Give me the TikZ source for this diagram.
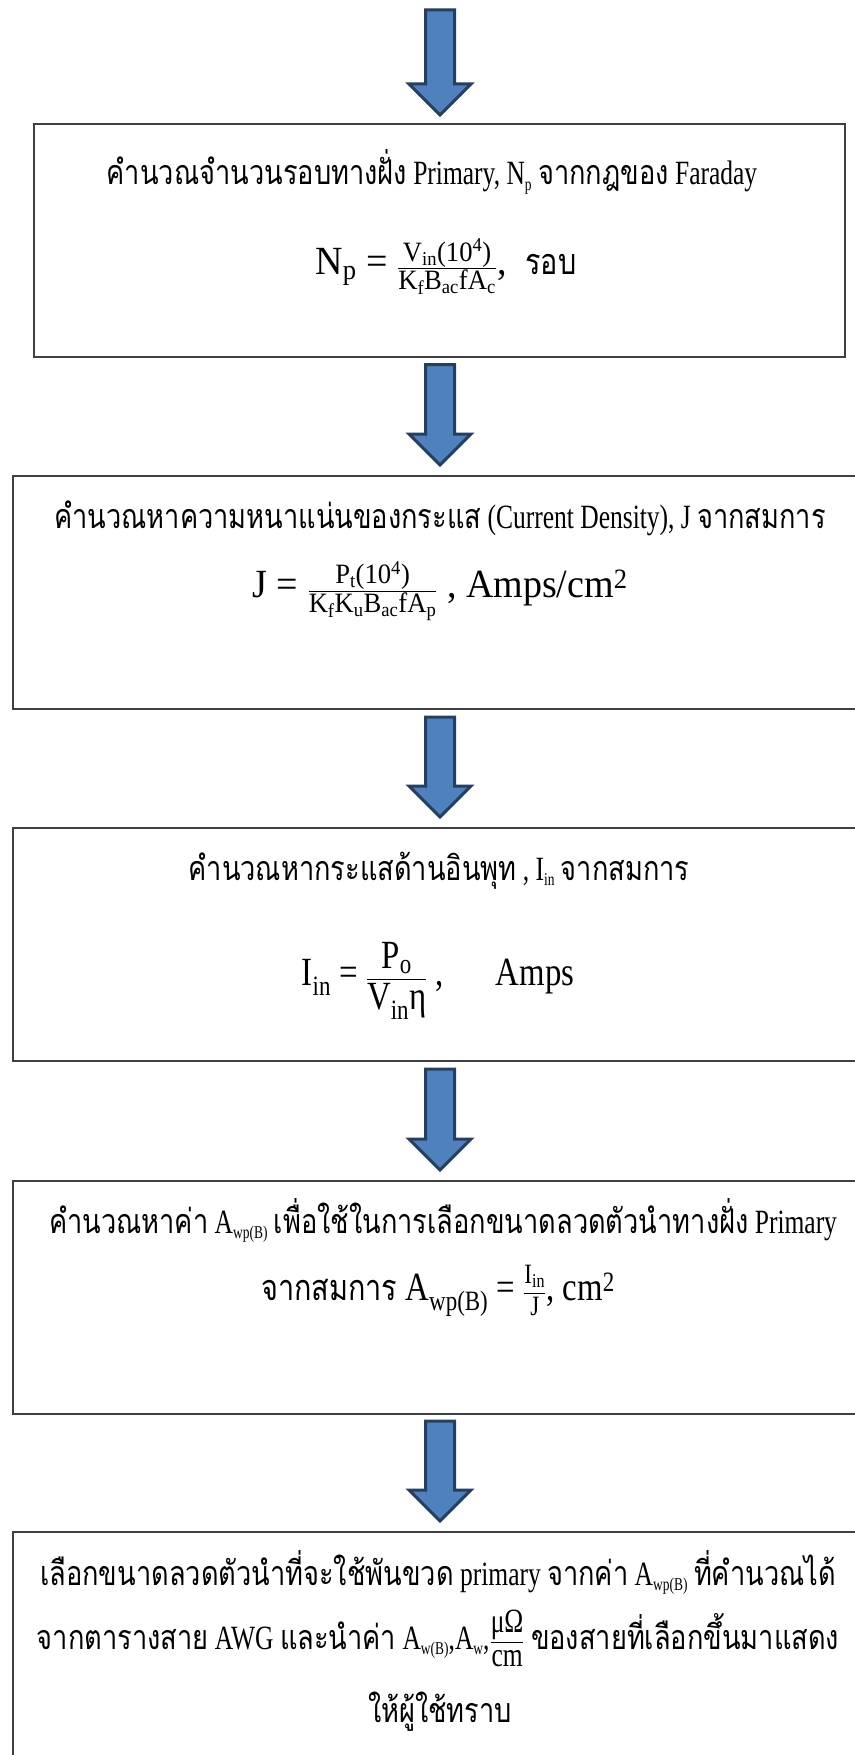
\documentclass[tikz,border=0pt]{standalone}
\usepackage{amsmath}
\usepackage{fontspec}
\setmainfont{Liberation Serif}[FakeStretch=0.75]
\newfontfamily\eqf{Liberation Serif}[FakeStretch=0.82]
\newfontfamily\eqfw{Liberation Serif}[FakeStretch=0.95]
\newfontfamily\thf[Script=Thai,FakeStretch=0.8]{Loma}
\usetikzlibrary{calc}
\definecolor{arrowfill}{HTML}{4F81BD}
\definecolor{arrowline}{HTML}{243F60}
\definecolor{boxline}{HTML}{404040}
\newcommand\subs[1]{\raisebox{-0.35ex}{\fontsize{18}{18}\selectfont #1}}
\newcommand\sbs[1]{\textsubscript{#1}}
\newcommand\sps[1]{\textsuperscript{#1}}
\newcommand\blockarrow[2]{%
  \draw[barrow] let \p1=(#1), \p2=(#2) in
   (\x1-14.5pt,\y1) -- (\x1+14.5pt,\y1) -- (\x1+14.5pt,\y2+31pt) -- (\x1+31pt,\y2+31pt)
   -- (\x1,\y2) -- (\x1-31pt,\y2+31pt) -- (\x1-14.5pt,\y2+31pt) -- cycle;}
\tikzset{
  barrow/.style={fill=arrowfill, draw=arrowline, line width=3pt, line join=miter},
  box/.style={draw=boxline, line width=2pt, rectangle, inner sep=0pt},
  txt/.style={anchor=base, inner sep=0pt, font=\fontsize{34}{40}\selectfont},
  eq/.style={anchor=center, inner sep=0pt, font=\eqf\fontsize{40}{46}\selectfont},
  eqw/.style={anchor=center, inner sep=0pt, font=\eqfw\fontsize{40}{46}\selectfont},
}
\begin{document}
\begin{tikzpicture}[x=1pt,y=-1pt]
\useasboundingbox (0,0) rectangle (854,1755);
% boxes
\node[box, minimum width=811pt, minimum height=233pt] (b1) at (439.5,240.5) {};
\node[box, minimum width=856pt, minimum height=233pt] (b2) at (441,592.5) {};
\node[box, minimum width=856pt, minimum height=233pt] (b3) at (441,944.5) {};
\node[box, minimum width=856pt, minimum height=233pt] (b4) at (441,1297.5) {};
\node[box, minimum width=856pt, minimum height=233pt] (b5) at (441,1648.5) {};
% arrows
\coordinate (a1s) at (440,10);
\coordinate (a1e) at (440,115);
\blockarrow{a1s}{a1e}
\blockarrow{$(b1.south)+(0.5,6.5)$}{$(b2.north)+(-1,-10)$}
\blockarrow{$(b2.south)+(-1,7)$}{$(b3.north)+(-1,-10)$}
\blockarrow{$(b3.south)+(-1,7)$}{$(b4.north)+(-1,-10)$}
\blockarrow{$(b4.south)+(-1,6)$}{$(b5.north)+(-1,-10)$}
% box 1
\node[txt] (t11) at (432,185) {{\thf คำนวณจำนวนรอบทางฝั่ง} Primary, N\subs{p} {\thf จากกฎของ} Faraday};
\node[eqw] (t12) at (446,267) {N\sbs{p} = $\frac{\text{V\sbs{in}(10\sps{4})}}{\text{K\sbs{f}B\sbs{ac}fA\sbs{c}}}$,\ \ {\thf\fontsize{36}{42}\selectfont รอบ}};
% box 2
\node[txt] (t21) at (440,528) {{\thf คำนวณหาความหนาแน่นของกระแส} (Current Density), J {\thf จากสมการ}};
\node[eqw] (t22) at (440,591) {J = $\frac{\text{P\sbs{t}(10\sps{4})}}{\text{K\sbs{f}K\sbs{u}B\sbs{ac}fA\sbs{p}}}$ ,\ Amps/cm\sps{2}};
% box 3
\node[txt] (t31) at (439,880) {{\thf คำนวณหากระแสด้านอินพุท} , I\subs{in} {\thf จากสมการ}};
\node[eq] (t32) at (438,981) {I\sbs{in} = $\dfrac{\text{P\sbs{o}}}{\text{V\sbs{in}η}}$ ,\hspace{52pt}Amps};
% box 4
\node[txt] (t41) at (443,1233) {{\thf คำนวณหาค่า} A\subs{wp(B)} {\thf เพื่อใช้ในการเลือกขนาดลวดตัวนำทางฝั่ง} Primary};
\node[eq] (t42) at (438,1291) {{\thf\fontsize{36}{42}\selectfont จากสมการ} A\sbs{wp(B)} = $\frac{\text{I\sbs{in}}\rule[-9pt]{0pt}{9pt}}{\rule{0pt}{20pt}\text{J}}$, cm\sps{2}};
% box 5
\node[txt] (t51) at (438,1585) {{\thf เลือกขนาดลวดตัวนำที่จะใช้พันขวด} primary {\thf จากค่า} A\subs{wp(B)} {\thf ที่คำนวณได้}};
\node[txt] (t52) at (438,1649) {{\thf จากตารางสาย} AWG {\thf และนำค่า} A\subs{w(B)},A\subs{w},$\dfrac{\text{μΩ}}{\text{cm}}$ {\thf ของสายที่เลือกขึ้นมาแสดง}};
\node[txt] (t53) at (440,1722) {{\thf ให้ผู้ใช้ทราบ}};
\end{tikzpicture}
\end{document}
